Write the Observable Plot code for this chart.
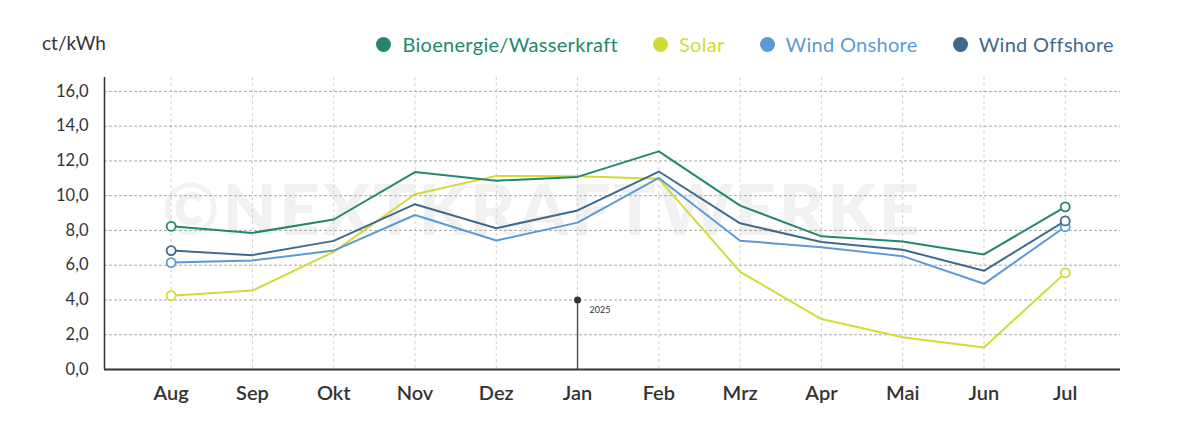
<!DOCTYPE html>
<html>
<head>
<meta charset="utf-8">
<script src="https://cdn.jsdelivr.net/npm/d3@7"></script>
<script src="https://cdn.jsdelivr.net/npm/@observablehq/plot@0.6"></script>
<style>
  body { margin: 0; background: #fff; font-family: Lato, "Open Sans", sans-serif; }
  #wrap { position: relative; width: 1200px; height: 424px; overflow: hidden; }
  #watermark { position: absolute; left: 162px; top: 166px; font-size: 70px; font-weight: 900; color: #f1f1f1; letter-spacing: 3px; white-space: nowrap; font-family: Lato, sans-serif; }
  #unit { position: absolute; left: 42px; top: 31px; font-size: 19px; color: #333; }
  #legend { position: absolute; right: 86px; top: 32px; display: flex; gap: 35px; font-size: 20px; letter-spacing: 0.3px; }
  #legend .item { display: flex; align-items: center; }
  #legend .dot { width: 15px; height: 15px; border-radius: 50%; margin-right: 11px; }
  #chart { position: absolute; left: 0; top: 0; }
</style>
</head>
<body>
<div id="wrap">
  <div id="watermark">©NEXTKRAFTWERKE</div>
  <div id="chart"></div>
  <div id="unit">ct/kWh</div>
  <div id="legend"></div>
</div>
<script>
const months = ["Aug", "Sep", "Okt", "Nov", "Dez", "Jan", "Feb", "Mrz", "Apr", "Mai", "Jun", "Jul"];
const seriesNames = ["Bioenergie/Wasserkraft", "Solar", "Wind Onshore", "Wind Offshore"];
const seriesColors = ["#23876f", "#d3da38", "#5b9bd5", "#3f6a8c"];
const bio = [8.24, 7.86, 8.63, 11.36, 10.86, 11.08, 12.55, 9.43, 7.66, 7.37, 6.62, 9.36];
const solar = [4.25, 4.54, 6.77, 10.08, 11.14, 11.12, 10.97, 5.62, 2.9, 1.86, 1.27, 5.56];
const onshore = [6.15, 6.27, 6.84, 8.89, 7.42, 8.45, 11.02, 7.41, 7.04, 6.52, 4.93, 8.21];
const offshore = [6.84, 6.58, 7.4, 9.51, 8.13, 9.15, 11.39, 8.41, 7.33, 6.89, 5.68, 8.55];
const yTicks = [0, 2, 4, 6, 8, 10, 12, 14, 16];
const annotation = [{month: "Jan", value: 4, label: "2025"}];

const seriesValues = [bio, solar, onshore, offshore];
const data = [];
seriesNames.forEach((name, s) => {
  seriesValues[s].forEach((v, i) => data.push({series: name, i, month: months[i], value: v}));
});
const drawOrder = ["Solar", "Wind Onshore", "Wind Offshore", "Bioenergie/Wasserkraft"];
const ordered = drawOrder.flatMap(n => data.filter(d => d.series === n));
const endpoints = ordered.filter(d => d.i === 0 || d.i === months.length - 1);
const ann = annotation.map(a => ({...a, i: months.indexOf(a.month)}));

const xDomain = [-0.82, months.length - 1 + 0.68];
const fmt = d => d.toFixed(1).replace(".", ",");

const chart = Plot.plot({
  width: 1200,
  height: 424,
  marginLeft: 104,
  marginRight: 80,
  marginTop: 77,
  marginBottom: 55,
  style: {fontFamily: "Lato, sans-serif", color: "#333", background: "transparent"},
  x: {type: "linear", domain: xDomain},
  y: {domain: [0, 16.8]},
  color: {domain: seriesNames, range: seriesColors},
  marks: [
    Plot.gridX(d3.range(months.length), {stroke: "#d0d0d0", strokeOpacity: 1, strokeDasharray: "3,3"}),
    Plot.gridY(yTicks, {stroke: "#a8a8a8", strokeOpacity: 1, strokeDasharray: "3,2"}),
    Plot.axisY(yTicks, {tickSize: 0, tickPadding: 16, tickFormat: fmt, fontSize: 16.5, label: null}),
    Plot.axisX(d3.range(months.length), {tickSize: 0, tickPadding: 16, tickFormat: i => months[i], fontSize: 20, fontWeight: 600, label: null}),
    Plot.ruleX(ann, {x: "i", y1: 0, y2: "value", stroke: "#555", strokeWidth: 1.5}),
    Plot.dot(ann, {x: "i", y: "value", r: 3.5, fill: "#333"}),
    Plot.text(ann, {x: "i", y: "value", text: "label", dx: 12, dy: 10, textAnchor: "start", fontSize: 9, fill: "#333"}),
    Plot.line(ordered, {x: "i", y: "value", z: "series", stroke: "series", strokeWidth: 2}),
    Plot.dot(endpoints, {x: "i", y: "value", stroke: "series", fill: "white", r: 4.5, strokeWidth: 1.8}),
    Plot.ruleY([0], {stroke: "#333", strokeWidth: 2}),
    Plot.ruleX([xDomain[0]], {stroke: "#333", strokeWidth: 1.5})
  ]
});
document.getElementById("chart").appendChild(chart);

const legend = document.getElementById("legend");
seriesNames.forEach((name, s) => {
  const item = document.createElement("div");
  item.className = "item";
  item.innerHTML = `<span class="dot" style="background:${seriesColors[s]}"></span><span style="color:${seriesColors[s]}">${name}</span>`;
  legend.appendChild(item);
});
</script>
</body>
</html>
